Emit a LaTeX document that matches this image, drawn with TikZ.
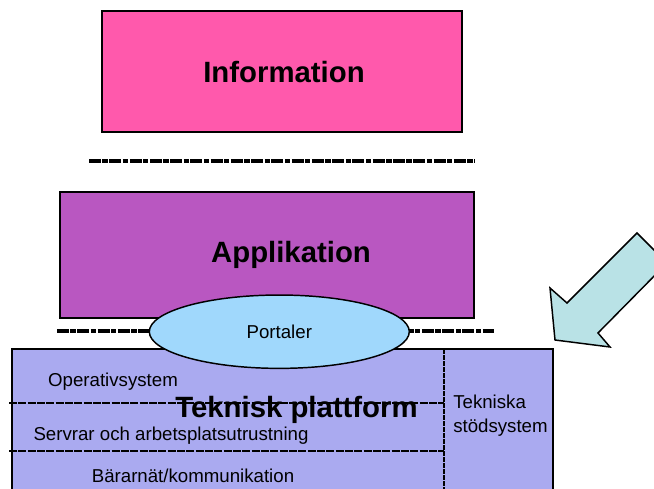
\documentclass[tikz,border=0pt]{standalone}
\usepackage{fontspec}
\setmainfont{Liberation Sans}
\usetikzlibrary{shapes.geometric}
\definecolor{infopink}{RGB}{255,89,172}
\definecolor{applilac}{RGB}{185,87,193}
\definecolor{portblue}{RGB}{160,216,252}
\definecolor{platlav}{RGB}{170,170,240}
\definecolor{arrowteal}{RGB}{185,226,230}
\tikzset{
	layer/.style={line width=1.1pt, draw=black},
	bigtext/.style={inner sep=0pt, font=\fontsize{22}{26}\selectfont\bfseries},
	smalltext/.style={inner sep=0pt, font=\fontsize{14}{18}\selectfont},
	thickdash/.style={line width=2.4pt, dash pattern=on 9pt off 1.1pt on 4pt off 1.1pt},
	thindash/.style={line width=1pt, dash pattern=on 6pt off 1pt},
}

\begin{document}
\begin{tikzpicture}[x=0.75pt, y=-0.75pt]
		%%%%% START %%%%%
		\clip (0, 0) rectangle (654, 489);
		
		% information
		\draw[layer, fill=infopink] (102, 11) rectangle (462, 132);
		\node[bigtext, anchor=base] (info) at (284, 82) {Information};
		\draw[thickdash] (89, 161) -- (475, 161);
		
		% applikation
		\draw[layer, fill=applilac] (60, 192) rectangle (474, 318);
		\node[bigtext, anchor=base] (appl) at (291, 262) {Applikation};
		\draw[thickdash] (57, 331) -- (494, 331);
		
		% teknisk plattform
		\draw[layer, fill=platlav] (12, 349) rectangle (553, 495);
		\node[draw, line width=1.1pt, fill=portblue, ellipse, minimum width=195pt, minimum height=55pt, smalltext] (port) at (279.3, 331.7) {Portaler};
		
		\draw[thindash] (9, 403) -- (444, 403);
		\draw[thindash] (9, 451) -- (444, 451);
		\draw[thindash, dash pattern=on 3.5pt off 1pt] (444, 349) -- (444, 489);
		
		\node[smalltext, anchor=base] (opsys) at (113, 386) {Operativsystem};
		\node[smalltext, anchor=base] (servrar) at (171, 440) {Servrar och arbetsplatsutrustning};
		\node[smalltext, anchor=base] (barnat) at (193, 482) {Bärarnät/kommunikation};
		\node[bigtext, anchor=base] (plattf) at (296.5, 417) {Teknisk plattform};
		\node[smalltext, anchor=north west, align=left] (stod) at (453, 394.4) {Tekniska\\stödsystem};
		
		% pil
		\draw[line width=1.1pt, fill=arrowteal] (637, 233) -- (667, 263) -- (598, 333) -- (610, 347) -- (555, 340) -- (550, 288) -- (567, 303) -- cycle;
		
		%%%%% END %%%%%
	\end{tikzpicture}
\end{document}
